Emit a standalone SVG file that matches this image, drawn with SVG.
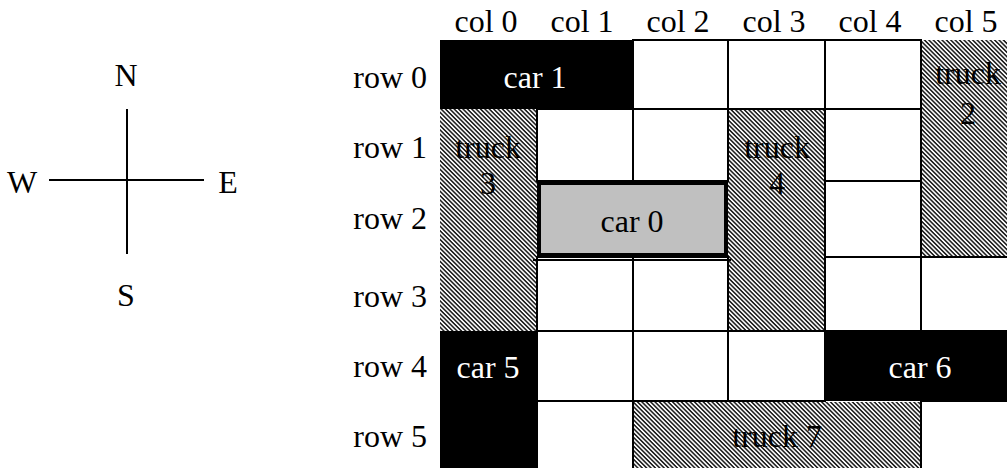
<svg xmlns="http://www.w3.org/2000/svg" width="1007" height="468" viewBox="0 0 1007 468" font-family="'Liberation Serif', 'DejaVu Serif', serif" font-size="32">
<defs>
<pattern id="hatch" patternUnits="userSpaceOnUse" width="6" height="3.1" patternTransform="rotate(45)">
<rect x="0" y="0" width="6" height="1.6" fill="#222"/>
</pattern>
</defs>
<style>
text{font-family:'Liberation Serif','DejaVu Serif',serif;font-size:32px;fill:#000;text-anchor:middle}
.lbl{text-anchor:end}
.wt{fill:#fff}
.cell{fill:#fff;stroke:#000;stroke-width:2}
.car{fill:#000}
.truck{fill:url(#hatch)}
.axis{stroke:#000;stroke-width:2;fill:none}
</style>
<rect width="1007" height="468" fill="#fff"/>
<g id="compass">
<g id="connectors">
<line class="axis" x1="127" y1="109" x2="127" y2="254"/>
<line class="axis" x1="49" y1="180" x2="204" y2="180"/>
</g>
<text x="126" y="86">N</text>
<text x="126" y="306">S</text>
<text x="22" y="193">W</text>
<text x="228" y="193">E</text>
</g>
<g id="headers">
<text x="486" y="32">col 0</text>
<text x="582" y="32">col 1</text>
<text x="678" y="32">col 2</text>
<text x="774" y="32">col 3</text>
<text x="870" y="32">col 4</text>
<text x="966" y="32">col 5</text>
<text class="lbl" x="427" y="88">row 0</text>
<text class="lbl" x="427" y="158">row 1</text>
<text class="lbl" x="427" y="229">row 2</text>
<text class="lbl" x="427" y="307">row 3</text>
<text class="lbl" x="427" y="377">row 4</text>
<text class="lbl" x="427" y="447">row 5</text>
</g>
<g id="vehicles-under">
<rect class="car" x="440" y="40" width="193" height="69"/>
<rect class="truck" x="921" y="40" width="99" height="217"/>
<rect class="truck" x="440" y="109" width="97" height="222"/>
<rect class="truck" x="728" y="109" width="97" height="222"/>
<rect class="car" x="440" y="331" width="97" height="149"/>
<rect class="car" x="825" y="331" width="195" height="70"/>
</g>
<g id="grid">
<rect class="cell" x="633" y="40" width="95" height="69"/>
<rect class="cell" x="728" y="40" width="97" height="69"/>
<rect class="cell" x="825" y="40" width="96" height="69"/>
<rect class="cell" x="537" y="109" width="96" height="72"/>
<rect class="cell" x="633" y="109" width="95" height="72"/>
<rect class="cell" x="825" y="109" width="96" height="72"/>
<rect class="cell" x="825" y="181" width="96" height="76"/>
<rect class="cell" x="537" y="257" width="96" height="74"/>
<rect class="cell" x="633" y="257" width="95" height="74"/>
<rect class="cell" x="825" y="257" width="96" height="74"/>
<rect class="cell" x="921" y="257" width="99" height="74"/>
<rect class="cell" x="537" y="331" width="96" height="70"/>
<rect class="cell" x="633" y="331" width="95" height="70"/>
<rect class="cell" x="728" y="331" width="97" height="70"/>
<rect class="cell" x="537" y="401" width="96" height="79"/>
<rect class="cell" x="921" y="401" width="99" height="79"/>
</g>
<g id="car1"><text class="wt" x="535" y="88">car 1</text></g>
<g id="truck2"><text x="968" y="84">truck</text><text x="968" y="124">2</text></g>
<g id="truck3"><text x="488" y="158">truck</text><text x="488" y="194">3</text></g>
<g id="truck4"><text x="777" y="158">truck</text><text x="777" y="194">4</text></g>
<g id="car0">
<rect x="539" y="183" width="187" height="72" fill="#c0c0c0" stroke="#000" stroke-width="4"/>
<line x1="533" y1="260" x2="731" y2="260" stroke="#000" stroke-width="2"/>
<text x="632" y="232">car 0</text>
</g>
<g id="car5"><text class="wt" x="488" y="378">car 5</text></g>
<g id="car6"><text class="wt" x="920" y="378">car 6</text></g>
<g id="truck7">
<rect class="truck" x="634" y="402" width="287" height="78"/>
<line x1="921" y1="401" x2="921" y2="480" stroke="#000" stroke-width="2"/>
<text x="777" y="447">truck 7</text>
</g>
</svg>
